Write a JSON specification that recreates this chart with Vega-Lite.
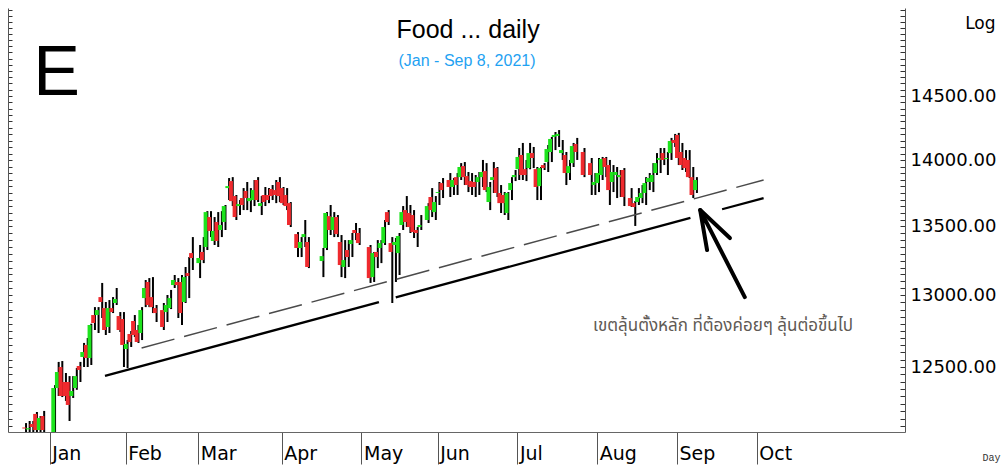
{
"$schema": "https://vega.github.io/schema/vega-lite/v6.json",
"width": 897, "height": 424,
"autosize": {"type": "none"},
"padding": {"left": 8, "top": 8, "right": 103, "bottom": 34},
"background": "white",
"config": {"view": {"stroke": null}, "axis": {"grid": false}},
"resolve": {"axis": {"y": "independent"}, "scale": {"x": "shared", "y": "shared"}},
"datasets": {
"candles": [
{"t":-7,"o":12092,"h":12122,"l":12036,"c":12086},
{"t":-6,"o":12080,"h":12136,"l":12036,"c":12088},
{"t":-5,"o":12116,"h":12136,"l":12056,"c":12096},
{"t":-4,"o":12183,"h":12196,"l":12050,"c":12076},
{"t":-3,"o":12076,"h":12169,"l":12063,"c":12156},
{"t":-2,"o":12169,"h":12203,"l":12036,"c":12076},
{"t":1,"o":12030,"h":12377,"l":12020,"c":12357},
{"t":2,"o":12357,"h":12535,"l":12303,"c":12466},
{"t":3,"o":12500,"h":12541,"l":12296,"c":12303},
{"t":4,"o":12398,"h":12459,"l":12270,"c":12303},
{"t":5,"o":12398,"h":12438,"l":12136,"c":12243},
{"t":6,"o":12303,"h":12438,"l":12290,"c":12337},
{"t":7,"o":12357,"h":12493,"l":12345,"c":12438},
{"t":8,"o":12507,"h":12535,"l":12398,"c":12480},
{"t":9,"o":12569,"h":12666,"l":12500,"c":12603},
{"t":10,"o":12652,"h":12700,"l":12500,"c":12562},
{"t":11,"o":12562,"h":12800,"l":12514,"c":12791},
{"t":12,"o":12861,"h":12917,"l":12756,"c":12805},
{"t":13,"o":12861,"h":12917,"l":12735,"c":12896},
{"t":14,"o":12988,"h":13089,"l":12840,"c":12953},
{"t":15,"o":12910,"h":12953,"l":12721,"c":12756},
{"t":16,"o":12777,"h":12967,"l":12735,"c":12910},
{"t":17,"o":12910,"h":12988,"l":12875,"c":12882},
{"t":18,"o":12946,"h":13053,"l":12932,"c":12974},
{"t":19,"o":12854,"h":12882,"l":12742,"c":12756},
{"t":20,"o":12833,"h":12882,"l":12500,"c":12652},
{"t":21,"o":12624,"h":12686,"l":12493,"c":12659},
{"t":22,"o":12728,"h":12749,"l":12638,"c":12672},
{"t":23,"o":12819,"h":12861,"l":12707,"c":12721},
{"t":24,"o":12756,"h":12791,"l":12666,"c":12672},
{"t":25,"o":12735,"h":12917,"l":12686,"c":12896},
{"t":26,"o":12981,"h":13110,"l":12917,"c":13053},
{"t":27,"o":13096,"h":13124,"l":12917,"c":12932},
{"t":28,"o":12988,"h":13131,"l":12875,"c":12917},
{"t":29,"o":12910,"h":12932,"l":12812,"c":12875},
{"t":31,"o":12896,"h":12946,"l":12756,"c":12777},
{"t":32,"o":12882,"h":13003,"l":12812,"c":12932},
{"t":33,"o":12910,"h":13039,"l":12903,"c":12981},
{"t":34,"o":13074,"h":13146,"l":13053,"c":13110},
{"t":35,"o":13096,"h":13124,"l":12840,"c":13074},
{"t":36,"o":13096,"h":13146,"l":12791,"c":12875},
{"t":37,"o":12953,"h":13204,"l":12946,"c":13131},
{"t":38,"o":13160,"h":13276,"l":12981,"c":13139},
{"t":39,"o":13305,"h":13422,"l":13182,"c":13269},
{"t":41,"o":13232,"h":13364,"l":13124,"c":13269},
{"t":42,"o":13313,"h":13422,"l":13232,"c":13254},
{"t":43,"o":13349,"h":13614,"l":13327,"c":13607},
{"t":44,"o":13570,"h":13614,"l":13422,"c":13467},
{"t":45,"o":13393,"h":13570,"l":13364,"c":13467},
{"t":46,"o":13533,"h":13607,"l":13349,"c":13393},
{"t":47,"o":13474,"h":13614,"l":13422,"c":13511},
{"t":48,"o":13533,"h":13660,"l":13474,"c":13652},
{"t":49,"o":13787,"h":13863,"l":13697,"c":13802},
{"t":50,"o":13840,"h":13870,"l":13652,"c":13689},
{"t":51,"o":13727,"h":13735,"l":13548,"c":13570},
{"t":52,"o":13652,"h":13697,"l":13585,"c":13667},
{"t":53,"o":13712,"h":13787,"l":13622,"c":13660},
{"t":54,"o":13765,"h":13833,"l":13622,"c":13712},
{"t":55,"o":13689,"h":13787,"l":13607,"c":13712},
{"t":56,"o":13697,"h":13848,"l":13652,"c":13772},
{"t":57,"o":13848,"h":13870,"l":13682,"c":13697},
{"t":58,"o":13652,"h":13727,"l":13585,"c":13674},
{"t":59,"o":13735,"h":13795,"l":13652,"c":13682},
{"t":60,"o":13735,"h":13787,"l":13674,"c":13697},
{"t":61,"o":13780,"h":13810,"l":13697,"c":13727},
{"t":62,"o":13772,"h":13848,"l":13674,"c":13735},
{"t":63,"o":13833,"h":13870,"l":13682,"c":13727},
{"t":64,"o":13787,"h":13795,"l":13660,"c":13674},
{"t":65,"o":13735,"h":13787,"l":13622,"c":13652},
{"t":66,"o":13674,"h":13682,"l":13496,"c":13511},
{"t":68,"o":13444,"h":13459,"l":13276,"c":13342},
{"t":69,"o":13342,"h":13422,"l":13276,"c":13386},
{"t":70,"o":13422,"h":13548,"l":13349,"c":13444},
{"t":71,"o":13386,"h":13422,"l":13196,"c":13204},
{"t":75,"o":13247,"h":13342,"l":13131,"c":13283},
{"t":76,"o":13342,"h":13607,"l":13327,"c":13600},
{"t":77,"o":13577,"h":13660,"l":13437,"c":13474},
{"t":78,"o":13474,"h":13607,"l":13422,"c":13570},
{"t":79,"o":13570,"h":13585,"l":13422,"c":13444},
{"t":80,"o":13386,"h":13437,"l":13131,"c":13218},
{"t":81,"o":13204,"h":13400,"l":13124,"c":13254},
{"t":82,"o":13327,"h":13400,"l":13204,"c":13276},
{"t":83,"o":13371,"h":13452,"l":13276,"c":13400},
{"t":84,"o":13474,"h":13526,"l":13400,"c":13452},
{"t":85,"o":13452,"h":13489,"l":13364,"c":13378},
{"t":88,"o":13349,"h":13364,"l":13089,"c":13124},
{"t":89,"o":13131,"h":13313,"l":13096,"c":13305},
{"t":90,"o":13313,"h":13400,"l":13196,"c":13276},
{"t":91,"o":13342,"h":13400,"l":13232,"c":13378},
{"t":92,"o":13378,"h":13548,"l":13364,"c":13496},
{"t":93,"o":13607,"h":13622,"l":13511,"c":13533},
{"t":94,"o":13378,"h":13422,"l":12946,"c":13313},
{"t":95,"o":13364,"h":13415,"l":13096,"c":13386},
{"t":96,"o":13305,"h":13452,"l":13146,"c":13430},
{"t":97,"o":13511,"h":13652,"l":13474,"c":13607},
{"t":98,"o":13622,"h":13727,"l":13496,"c":13533},
{"t":99,"o":13600,"h":13660,"l":13452,"c":13496},
{"t":100,"o":13585,"h":13622,"l":13415,"c":13459},
{"t":101,"o":13474,"h":13496,"l":13349,"c":13452},
{"t":102,"o":13496,"h":13585,"l":13474,"c":13511},
{"t":104,"o":13548,"h":13674,"l":13526,"c":13652},
{"t":105,"o":13720,"h":13787,"l":13570,"c":13622},
{"t":106,"o":13607,"h":13727,"l":13548,"c":13682},
{"t":107,"o":13750,"h":13833,"l":13660,"c":13757},
{"t":108,"o":13825,"h":13863,"l":13712,"c":13772},
{"t":110,"o":13848,"h":13901,"l":13720,"c":13795},
{"t":111,"o":13795,"h":13863,"l":13735,"c":13848},
{"t":112,"o":13870,"h":13901,"l":13735,"c":13810},
{"t":113,"o":13870,"h":13977,"l":13848,"c":13947},
{"t":114,"o":13954,"h":13985,"l":13810,"c":13870},
{"t":115,"o":13878,"h":13909,"l":13757,"c":13810},
{"t":116,"o":13840,"h":13901,"l":13735,"c":13795},
{"t":117,"o":13833,"h":13886,"l":13720,"c":13795},
{"t":118,"o":13833,"h":13909,"l":13735,"c":13870},
{"t":119,"o":13870,"h":14001,"l":13795,"c":13909},
{"t":120,"o":13916,"h":13977,"l":13757,"c":13772},
{"t":121,"o":13682,"h":13833,"l":13622,"c":13795},
{"t":122,"o":13848,"h":13985,"l":13750,"c":13870},
{"t":123,"o":13939,"h":13947,"l":13720,"c":13750},
{"t":124,"o":13750,"h":13810,"l":13600,"c":13674},
{"t":125,"o":13735,"h":13757,"l":13585,"c":13674},
{"t":126,"o":13600,"h":13757,"l":13548,"c":13750},
{"t":127,"o":13772,"h":13870,"l":13697,"c":13825},
{"t":128,"o":13870,"h":13924,"l":13840,"c":13886},
{"t":129,"o":13931,"h":14093,"l":13848,"c":14024},
{"t":130,"o":14039,"h":14132,"l":13848,"c":13886},
{"t":131,"o":13931,"h":14001,"l":13840,"c":13886},
{"t":132,"o":13939,"h":14132,"l":13930,"c":14054},
{"t":133,"o":14054,"h":14101,"l":13939,"c":14016},
{"t":134,"o":13931,"h":13947,"l":13697,"c":13795},
{"t":135,"o":13802,"h":13947,"l":13697,"c":13939},
{"t":136,"o":13962,"h":13977,"l":13924,"c":13939},
{"t":137,"o":13985,"h":14116,"l":13909,"c":14085},
{"t":138,"o":14062,"h":14178,"l":13985,"c":14163},
{"t":139,"o":14178,"h":14217,"l":14077,"c":14194},
{"t":140,"o":14186,"h":14232,"l":14101,"c":14202},
{"t":141,"o":14054,"h":14155,"l":14001,"c":14077},
{"t":142,"o":14039,"h":14062,"l":13810,"c":13901},
{"t":143,"o":13901,"h":14001,"l":13848,"c":13954},
{"t":144,"o":13977,"h":14132,"l":13947,"c":14108},
{"t":145,"o":14124,"h":14171,"l":14001,"c":14062},
{"t":147,"o":14062,"h":14093,"l":13870,"c":13886},
{"t":149,"o":13977,"h":14016,"l":13735,"c":13886},
{"t":150,"o":13810,"h":13901,"l":13735,"c":13833},
{"t":151,"o":13825,"h":14016,"l":13757,"c":13901},
{"t":152,"o":13886,"h":14024,"l":13848,"c":14008},
{"t":153,"o":14016,"h":14024,"l":13870,"c":13947},
{"t":154,"o":13962,"h":14001,"l":13660,"c":13772},
{"t":155,"o":13833,"h":13962,"l":13757,"c":13909},
{"t":156,"o":13886,"h":13947,"l":13712,"c":13909},
{"t":157,"o":13870,"h":13924,"l":13720,"c":13886},
{"t":158,"o":13924,"h":13939,"l":13652,"c":13720},
{"t":160,"o":13712,"h":13787,"l":13645,"c":13652},
{"t":161,"o":13674,"h":13690,"l":13504,"c":13645},
{"t":162,"o":13682,"h":13787,"l":13660,"c":13720},
{"t":163,"o":13712,"h":13810,"l":13674,"c":13750},
{"t":164,"o":13750,"h":13870,"l":13660,"c":13825},
{"t":165,"o":13833,"h":13901,"l":13772,"c":13863},
{"t":166,"o":13833,"h":13977,"l":13757,"c":13886},
{"t":167,"o":13901,"h":14054,"l":13886,"c":13977},
{"t":168,"o":14001,"h":14093,"l":13901,"c":14016},
{"t":169,"o":14054,"h":14093,"l":13962,"c":14001},
{"t":170,"o":14008,"h":14062,"l":13886,"c":14016},
{"t":171,"o":14054,"h":14171,"l":14001,"c":14147},
{"t":172,"o":14155,"h":14202,"l":14101,"c":14132},
{"t":173,"o":14194,"h":14210,"l":13962,"c":14016},
{"t":174,"o":14062,"h":14132,"l":13924,"c":13962},
{"t":175,"o":14016,"h":14077,"l":13909,"c":13939},
{"t":176,"o":14001,"h":14077,"l":13863,"c":13870},
{"t":177,"o":13870,"h":13947,"l":13712,"c":13735},
{"t":178,"o":13772,"h":13870,"l":13750,"c":13848}
],
"solid": [
{"seg":"a","t":15.27,"v":12439},{"seg":"a","t":90.81,"v":12953},
{"seg":"b","t":95.45,"v":12986},{"seg":"b","t":176.71,"v":13564},
{"seg":"c","t":185.44,"v":13628},{"seg":"c","t":196.89,"v":13712}
],
"dashed": [
{"t":25.36,"v":12631},{"t":196.89,"v":13848}
],
"arrow": [
{"seg":"a","o":1,"t":181.3,"v":13327},{"seg":"a","o":2,"t":179.4,"v":13622},{"seg":"a","o":3,"t":191.7,"v":12988},
{"seg":"b","o":1,"t":179.4,"v":13622},{"seg":"b","o":2,"t":187.6,"v":13415}
]
},
"layer": [
{
"data": {"name": "candles"},
"mark": {"type": "rule", "color": "#000000", "strokeWidth": 2, "xOffset": 1.8, "clip": true},
"encoding": {
"x": {"field": "t", "type": "quantitative",
"scale": {"domain": [-10.1, 234.5], "nice": false, "zero": false},
"axis": {"values": [0,21,41,64,86,107,129,151,173,195],
"labelExpr": "datum.value == 0 ? 'Jan' : datum.value == 21 ? 'Feb' : datum.value == 41 ? 'Mar' : datum.value == 64 ? 'Apr' : datum.value == 86 ? 'May' : datum.value == 107 ? 'Jun' : datum.value == 129 ? 'Jul' : datum.value == 151 ? 'Aug' : datum.value == 173 ? 'Sep' : 'Oct'",
"orient": "bottom",
"tickSize": 32, "tickColor": "#555555", "domainColor": "#666666",
"labelAlign": "left", "labelOffset": 2, "labelBaseline": "alphabetic", "labelPadding": -5,
"labelFont": "DejaVu Sans", "labelFontSize": 19, "labelColor": "#000000", "labelFlush": false, "labelOverlap": false,
"title": "Day", "titleFont": "Liberation Mono", "titleFontSize": 10, "titleFontWeight": "normal", "titleColor": "#333333",
"titleAlign": "right", "titleBaseline": "alphabetic", "titleX": 992, "titleY": 28}},
"y": {"field": "l", "type": "quantitative",
"scale": {"type": "log", "domain": [12063, 15216], "nice": false},
"axis": {"orient": "left", "values": [12100,12150,12200,12250,12300,12350,12400,12450,12500,12550,12600,12650,12700,12750,12800,12850,12900,12950,13000,13050,13100,13150,13200,13250,13300,13350,13400,13450,13500,13550,13600,13650,13700,13750,13800,13850,13900,13950,14000,14050,14100,14150,14200,14250,14300,14350,14400,14450,14500,14550,14600,14650,14700,14750,14800,14850,14900,14950,15000,15050,15100,15150,15200],
"labels": false, "tickSize": -4, "tickColor": "#333333", "domainColor": "#555555", "title": null}},
"y2": {"field": "h"}
}
},
{
"data": {"name": "candles"},
"mark": {"type": "bar", "width": 3.9, "clip": true},
"encoding": {
"x": {"field": "t", "type": "quantitative", "scale": {"domain": [-10.1, 234.5], "nice": false, "zero": false}},
"y": {"field": "o", "type": "quantitative",
"scale": {"type": "log", "domain": [12063, 15216], "nice": false},
"axis": {"orient": "right", "values": [12100,12150,12200,12250,12300,12350,12400,12450,12500,12550,12600,12650,12700,12750,12800,12850,12900,12950,13000,13050,13100,13150,13200,13250,13300,13350,13400,13450,13500,13550,13600,13650,13700,13750,13800,13850,13900,13950,14000,14050,14100,14150,14200,14250,14300,14350,14400,14450,14500,14550,14600,14650,14700,14750,14800,14850,14900,14950,15000,15050,15100,15150,15200],
"labelExpr": "(datum.value % 500 == 0 && datum.value <= 14500) ? format(datum.value, '.2f') : ''",
"tickSize": -5, "tickColor": "#333333", "domainColor": "#555555", "labelPadding": 10,
"labelFont": "DejaVu Sans", "labelFontSize": 18, "labelColor": "#000000", "labelFlush": false, "labelOverlap": false, "labelBaseline": "middle",
"title": "Log", "titleAngle": 0, "titleAlign": "right", "titleBaseline": "alphabetic", "titleX": 90, "titleY": 20,
"titleFont": "DejaVu Sans", "titleFontSize": 17, "titleFontWeight": "normal", "titleColor": "#000000"}},
"y2": {"field": "c"},
"color": {"condition": {"test": "datum.c >= datum.o", "value": "#1de31d"}, "value": "#ef2a2e"}
}
},
{
"data": {"name": "solid"},
"mark": {"type": "line", "color": "#000000", "strokeWidth": 2.3, "clip": true},
"encoding": {
"x": {"field": "t", "type": "quantitative", "scale": {"domain": [-10.1, 234.5], "nice": false, "zero": false}},
"y": {"field": "v", "type": "quantitative", "scale": {"type": "log", "domain": [12063, 15216], "nice": false}, "axis": null},
"detail": {"field": "seg"}
}
},
{
"data": {"name": "dashed"},
"mark": {"type": "line", "color": "#4a4a4a", "strokeWidth": 1.5, "strokeDash": [34, 10], "clip": true},
"encoding": {
"x": {"field": "t", "type": "quantitative", "scale": {"domain": [-10.1, 234.5], "nice": false, "zero": false}},
"y": {"field": "v", "type": "quantitative", "scale": {"type": "log", "domain": [12063, 15216], "nice": false}, "axis": null}
}
},
{
"data": {"name": "arrow"},
"mark": {"type": "line", "color": "#000000", "strokeWidth": 4, "strokeCap": "round", "strokeJoin": "round", "clip": true},
"encoding": {
"x": {"field": "t", "type": "quantitative", "scale": {"domain": [-10.1, 234.5], "nice": false, "zero": false}},
"y": {"field": "v", "type": "quantitative", "scale": {"type": "log", "domain": [12063, 15216], "nice": false}, "axis": null},
"detail": {"field": "seg"},
"order": {"field": "o"}
}
},
{
"data": {"values": [{"t": 1.9, "v": 14508, "txt": "E"}]},
"mark": {"type": "text", "font": "Liberation Sans", "fontSize": 70, "align": "center", "baseline": "alphabetic", "color": "#000000"},
"encoding": {
"x": {"field": "t", "type": "quantitative", "scale": {"domain": [-10.1, 234.5], "nice": false, "zero": false}},
"y": {"field": "v", "type": "quantitative", "scale": {"type": "log", "domain": [12063, 15216], "nice": false}, "axis": null},
"text": {"field": "txt"}
}
},
{
"data": {"values": [{"t": 115.4, "v": 14968, "txt": "Food ... daily"}]},
"mark": {"type": "text", "font": "Liberation Sans", "fontSize": 25, "align": "center", "baseline": "alphabetic", "color": "#000000"},
"encoding": {
"x": {"field": "t", "type": "quantitative", "scale": {"domain": [-10.1, 234.5], "nice": false, "zero": false}},
"y": {"field": "v", "type": "quantitative", "scale": {"type": "log", "domain": [12063, 15216], "nice": false}, "axis": null},
"text": {"field": "txt"}
}
},
{
"data": {"values": [{"t": 115.1, "v": 14740, "txt": "(Jan - Sep 8, 2021)"}]},
"mark": {"type": "text", "font": "Liberation Sans", "fontSize": 16, "align": "center", "baseline": "alphabetic", "color": "#1fa2f2"},
"encoding": {
"x": {"field": "t", "type": "quantitative", "scale": {"domain": [-10.1, 234.5], "nice": false, "zero": false}},
"y": {"field": "v", "type": "quantitative", "scale": {"type": "log", "domain": [12063, 15216], "nice": false}, "axis": null},
"text": {"field": "txt"}
}
},
{
"data": {"values": [{"t": 185.7, "v": 12784, "txt": "เขตลุ้นตั้งหลัก ที่ต้องค่อยๆ  ลุ้นต่อขึ้นไป"}]},
"mark": {"type": "text", "font": "Noto Sans Thai, Tahoma, Noto Sans, sans-serif", "fontSize": 17, "align": "center", "baseline": "middle", "color": "#5f5a55"},
"encoding": {
"x": {"field": "t", "type": "quantitative", "scale": {"domain": [-10.1, 234.5], "nice": false, "zero": false}},
"y": {"field": "v", "type": "quantitative", "scale": {"type": "log", "domain": [12063, 15216], "nice": false}, "axis": null},
"text": {"field": "txt"}
}
}
]
}
